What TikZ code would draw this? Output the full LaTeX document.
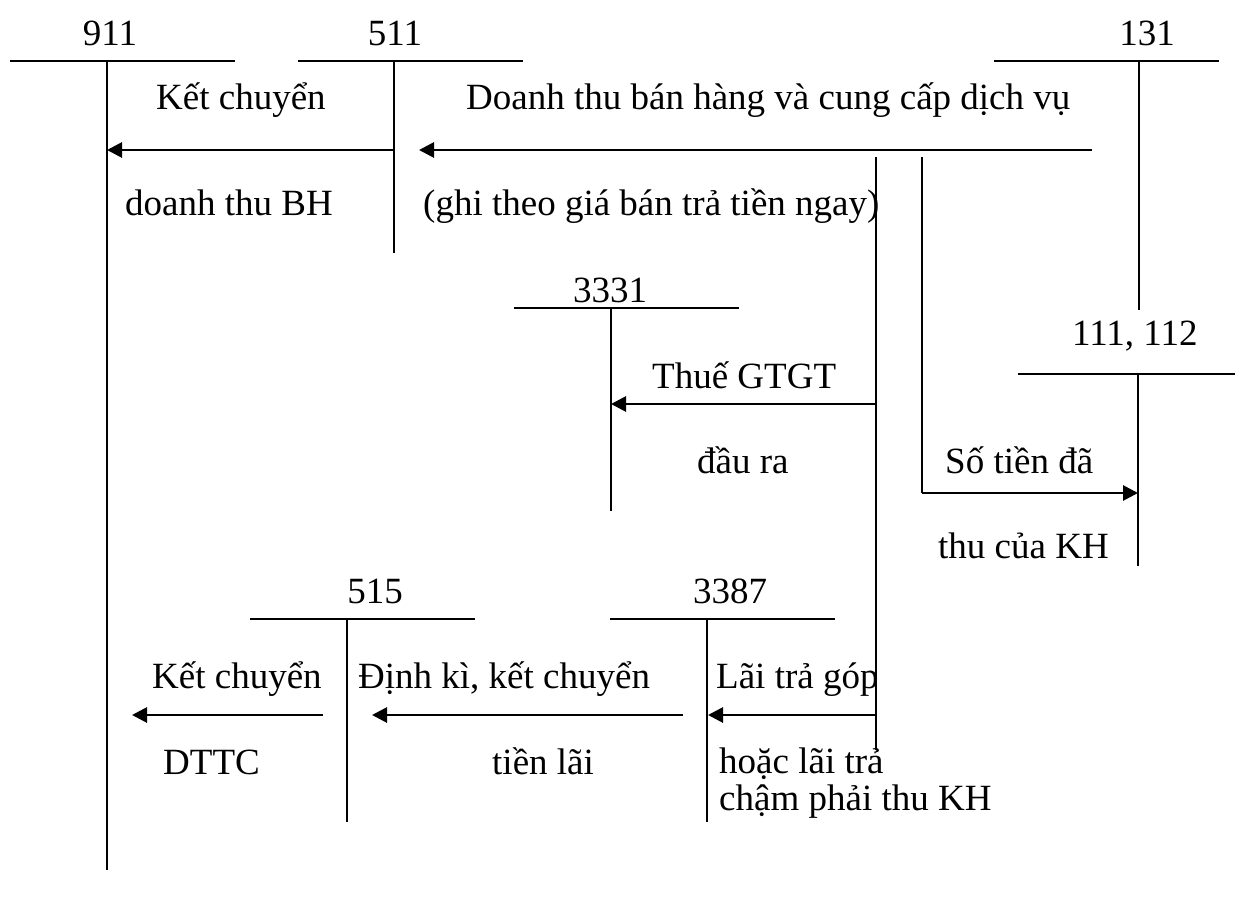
\documentclass[tikz,border=0pt]{standalone}
\usepackage{fontspec}
\setmainfont{Liberation Serif}
\usetikzlibrary{arrows.meta}
\begin{document}
\begin{tikzpicture}[x=1pt,y=-1pt,
  tline/.style={line width=2pt},
  flow/.style={line width=2.8pt,-{Triangle[length=15pt,width=15pt]}},
  lbl/.style={anchor=base west,inner sep=0pt,font=\fontsize{37}{40}\selectfont},
  num/.style={anchor=base,inner sep=0pt,font=\fontsize{37}{40}\selectfont}]
\useasboundingbox (0,0) rectangle (1235,897);

% ---- T-accounts ----
% 911
\node[num] (n911) at (110,45) {911};
\coordinate (a911L) at (10,61); \coordinate (a911R) at (235,61);
\coordinate (a911T) at (107,61); \coordinate (a911B) at (107,870);
\draw[tline] (a911L) -- (a911R);
\draw[tline] (a911T) -- (a911B);
% 511
\node[num] (n511) at (395,45) {511};
\coordinate (a511L) at (298,61); \coordinate (a511R) at (523,61);
\coordinate (a511T) at (394,61); \coordinate (a511B) at (394,253);
\draw[tline] (a511L) -- (a511R);
\draw[tline] (a511T) -- (a511B);
% 131
\node[num] (n131) at (1147,45) {131};
\coordinate (a131L) at (994,61); \coordinate (a131R) at (1219,61);
\coordinate (a131T) at (1139,61); \coordinate (a131B) at (1139,310);
\draw[tline] (a131L) -- (a131R);
\draw[tline] (a131T) -- (a131B);
% 3331
\node[num] (n3331) at (610,302) {3331};
\coordinate (a3331L) at (514,308); \coordinate (a3331R) at (739,308);
\coordinate (a3331T) at (611,308); \coordinate (a3331B) at (611,511);
\draw[tline] (a3331L) -- (a3331R);
\draw[tline] (a3331T) -- (a3331B);
% 111, 112
\node[lbl] (n111) at (1072,345) {111, 112};
\coordinate (a111L) at (1018,374); \coordinate (a111R) at (1235,374);
\coordinate (a111T) at (1138,374); \coordinate (a111B) at (1138,566);
\draw[tline] (a111L) -- (a111R);
\draw[tline] (a111T) -- (a111B);
% 515
\node[num] (n515) at (375,603) {515};
\coordinate (a515L) at (250,619); \coordinate (a515R) at (475,619);
\coordinate (a515T) at (347,619); \coordinate (a515B) at (347,822);
\draw[tline] (a515L) -- (a515R);
\draw[tline] (a515T) -- (a515B);
% 3387
\node[num] (n3387) at (730,603) {3387};
\coordinate (a3387L) at (610,619); \coordinate (a3387R) at (835,619);
\coordinate (a3387T) at (707,619); \coordinate (a3387B) at (707,822);
\draw[tline] (a3387L) -- (a3387R);
\draw[tline] (a3387T) -- (a3387B);

% ---- flows ----
% 511 -> 911
\coordinate (f1s) at (394,150); \coordinate (f1e) at (107,150);
\draw[flow] (f1s) -- (f1e);
\node[lbl] (t1a) at (156,109) {Kết chuyển};
\node[lbl] (t1b) at (125,215) {doanh thu BH};
% 131 -> 511
\coordinate (f2s) at (1092,150); \coordinate (f2e) at (419,150);
\draw[flow] (f2s) -- (f2e);
\node[lbl] (t2a) at (466,109) {Doanh thu bán hàng và cung cấp dịch vụ};
\node[lbl] (t2b) at (423,215) {(ghi theo giá bán trả tiền ngay)};
% branch line at 876
\coordinate (b1T) at (876,157); \coordinate (b1B) at (876,750);
\draw[tline] (b1T) -- (b1B);
\coordinate (b1g) at (876,404); \coordinate (g3331) at (611,404);
\draw[flow] (b1g) -- (g3331);
\node[lbl] (t3a) at (652,388) {Thuế GTGT};
\node[lbl] (t3b) at (697,473) {đầu ra};
\coordinate (b1l) at (876,715); \coordinate (l3387) at (708,715);
\draw[flow] (b1l) -- (l3387);
\node[lbl] (t6a) at (716,688) {Lãi trả góp};
\node[lbl] (t6b) at (719,773) {hoặc lãi trả};
\node[lbl] (t6c) at (719,810) {chậm phải thu KH};
% branch line at 922 -> 111,112
\coordinate (b2T) at (922,157); \coordinate (b2B) at (922,493);
\coordinate (c111) at (1138,493);
\draw[tline] (b2T) -- (b2B);
\draw[flow] (b2B) -- (c111);
\node[lbl] (t4a) at (945,473) {Số tiền đã};
\node[lbl] (t4b) at (938,558) {thu của KH};
% 3387 -> 515
\coordinate (f5s) at (683,715); \coordinate (f5e) at (372,715);
\draw[flow] (f5s) -- (f5e);
\node[lbl] (t5a) at (358,688) {Định kì, kết chuyển};
\node[lbl] (t5b) at (492,774) {tiền lãi};
% 515 -> 911
\coordinate (f7s) at (323,715); \coordinate (f7e) at (132,715);
\draw[flow] (f7s) -- (f7e);
\node[lbl] (t7a) at (152,688) {Kết chuyển};
\node[lbl] (t7b) at (163,774) {DTTC};
\end{tikzpicture}
\end{document}
